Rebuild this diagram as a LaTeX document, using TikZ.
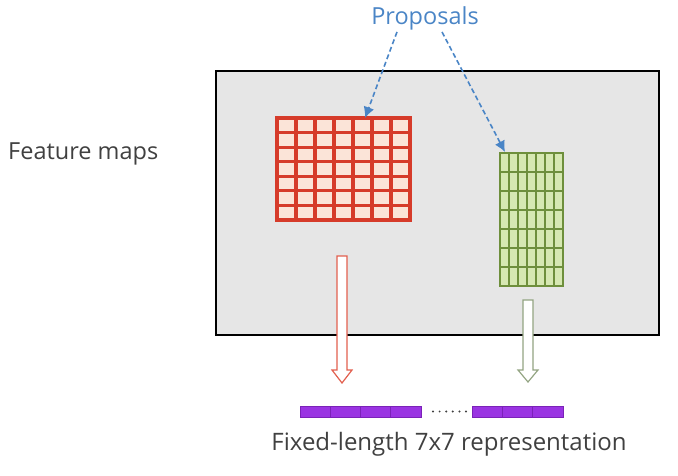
\documentclass[tikz,border=0pt]{standalone}
\usepackage{fontspec}
\setmainfont{Open Sans}
\usetikzlibrary{arrows.meta, positioning, calc}

\definecolor{mapgray}{HTML}{E6E6E6}
\definecolor{redline}{HTML}{D63B2A}
\definecolor{redfill}{HTML}{FBE4D8}
\definecolor{greenline}{HTML}{6E8F3C}
\definecolor{greenfill}{HTML}{D6E8B2}
\definecolor{propblue}{HTML}{4A85C6}
\definecolor{barpurple}{HTML}{9A34E2}
\definecolor{barline}{HTML}{7B22B8}
\definecolor{textgray}{HTML}{404040}
\definecolor{redarrow}{HTML}{E2604F}
\definecolor{greenarrow}{HTML}{93A482}

\tikzset{
  label text/.style={text=textgray, inner sep=0pt},
  proposal arrow/.style={propblue, line width=1.6, dash pattern=on 5pt off 3pt, -{Latex[length=11pt, width=11pt]}},
  hollow arrow/.style={line width=1.2, fill=white, line join=miter},
}

\begin{document}
\begin{tikzpicture}[x=1pt, y=-1pt]
	\useasboundingbox (0,0) rectangle (678,476);
	% feature map frame
	\coordinate (F1) at (216,71);
	\coordinate (F2) at (659,335);
	\draw [line width=2, fill=mapgray] (F1) rectangle (F2);
	% red proposal grid, 7x7
	\coordinate (R1) at (277,118);
	\coordinate (R2) at (410,220);
	\fill [redfill] (R1) rectangle (R2);
	\foreach \i in {0,...,7} {
		\draw [redline, line width=3.1pt, line cap=rect] (277+\i*19,118) -- (277+\i*19,220);
		\draw [redline, line width=3.1pt, line cap=rect] (277,118+\i*14.571) -- (410,118+\i*14.571);
	}
	% green proposal grid, 7x7
	\coordinate (G1) at (500,153);
	\coordinate (G2) at (563,286);
	\fill [greenfill] (G1) rectangle (G2);
	\foreach \i in {0,...,7} {
		\draw [greenline, line width=2.6pt, line cap=rect] (500+\i*9,153) -- (500+\i*9,286);
		\draw [greenline, line width=2.6pt, line cap=rect] (500,153+\i*19) -- (563,153+\i*19);
	}
	% labels
	\node [label text, anchor=west, font=\fontsize{23.5}{26}\selectfont] (maps) at (8,154) {Feature maps};
	\node [label text, text=propblue, font=\fontsize{23.5}{26}\selectfont] (prop) at (425,18) {Proposals};
	\node [label text, font=\fontsize{24}{26}\selectfont] (repr) at (449,444) {Fixed-length 7x7 representation};
	% proposal arrows
	\coordinate (RT) at (365,118);
	\coordinate (GT) at (505,152);
	\draw [proposal arrow] ($(prop.south)+(-28,2)$) -- (RT);
	\draw [proposal arrow] ($(prop.south)+(17,2)$) -- (GT);
	% hollow pooling arrows
	\draw [hollow arrow, draw=redarrow] (337,256) -- (347,256) -- (347,370) -- (352,370)
		-- (342,383) -- (332,370) -- (337,370) -- cycle;
	\draw [hollow arrow, draw=greenarrow] (523,300) -- (533,300) -- (533,370) -- (538,370)
		-- (528,382) -- (518,370) -- (523,370) -- cycle;
	% fixed-length vectors
	\coordinate (V1) at (300,406);
	\coordinate (V2) at (472,406);
	\fill [barpurple] (V1) rectangle (421,417);
	\fill [barpurple] (V2) rectangle (563,417);
	\foreach \i in {1,2,3} \draw [barline, line width=1.2] (300+\i*30.25,406) -- (300+\i*30.25,417);
	\foreach \i in {1,2} \draw [barline, line width=1.2] (472+\i*30.33,406) -- (472+\i*30.33,417);
	\draw [barline, line width=1] (V1) rectangle (421,417);
	\draw [barline, line width=1] (V2) rectangle (563,417);
	\foreach \i in {0,...,5} \fill [textgray] (433+\i*6.6,411.5) circle (1.1);
\end{tikzpicture}
\end{document}
